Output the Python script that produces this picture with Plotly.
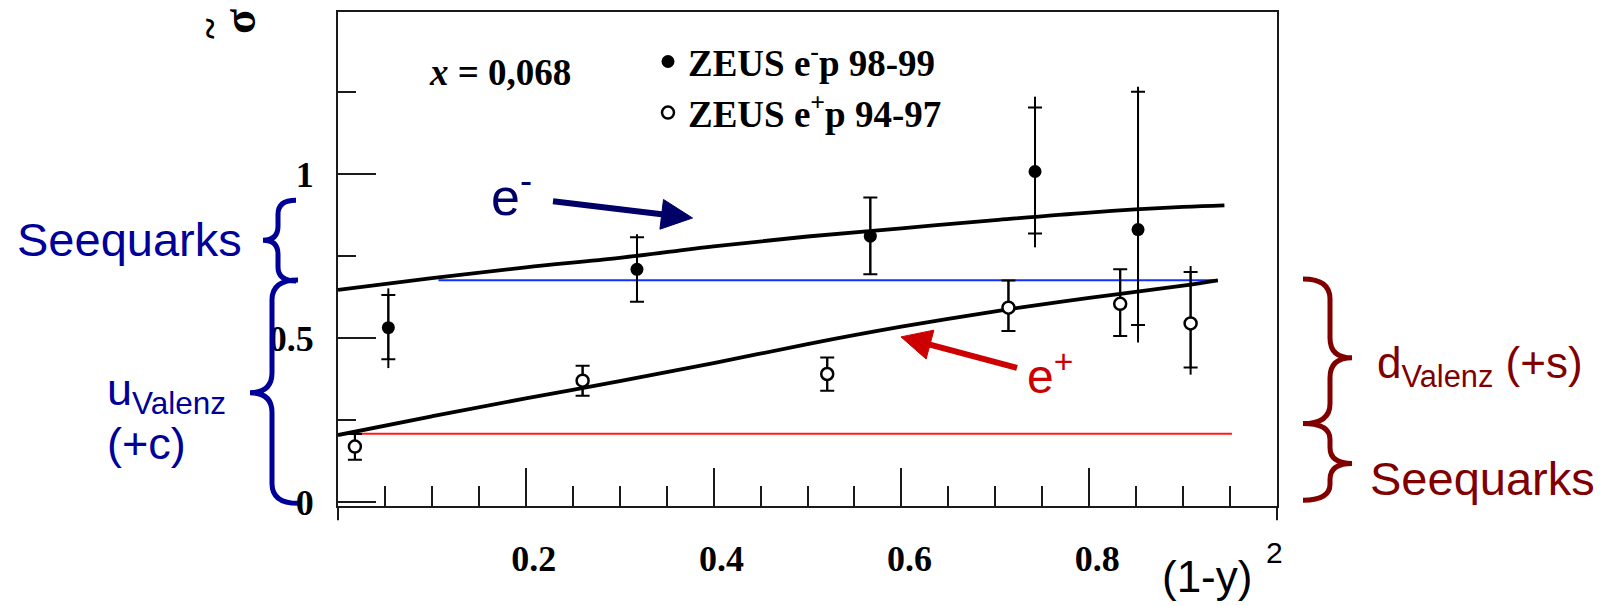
import math
import plotly.graph_objects as go

# ---------------------------------------------------------------------------
# ZEUS charged-current reduced cross sections at x = 0.068 vs (1-y)^2
# ---------------------------------------------------------------------------
# e- p 98-99 (filled points)
em_x = [0.0536, 0.3184, 0.5669, 0.7423, 0.852]
em_y = [0.532, 0.710, 0.811, 1.008, 0.831]
em_stat_hi = [0.632, 0.808, 0.929, 1.203, 1.251]
em_stat_lo = [0.436, 0.611, 0.695, 0.819, 0.540]
em_tot_hi = [0.652, 0.817, 0.929, 1.236, 1.266]
em_tot_lo = [0.409, 0.611, 0.695, 0.777, 0.487]

# e+ p 94-97 (open points)
ep_x = [0.018, 0.2605, 0.521, 0.714, 0.833, 0.908]
ep_y = [0.170, 0.3705, 0.391, 0.593, 0.605, 0.545]
ep_stat_hi = [0.208, 0.416, 0.441, 0.676, 0.710, 0.702]
ep_stat_lo = [0.130, 0.325, 0.340, 0.522, 0.507, 0.411]
ep_tot_hi = [0.208, 0.416, 0.441, 0.676, 0.710, 0.720]
ep_tot_lo = [0.130, 0.325, 0.340, 0.522, 0.507, 0.389]

# Standard Model expectations
fit_em_x = [0.0, 0.1, 0.2, 0.3, 0.4, 0.5, 0.6, 0.7, 0.8, 0.9, 0.944]
fit_em_y = [0.647, 0.683, 0.716, 0.745, 0.780, 0.810, 0.835, 0.860, 0.883, 0.900, 0.905]
fit_ep_x = [0.0, 0.1, 0.2, 0.3, 0.4, 0.5, 0.6, 0.7, 0.8, 0.9, 0.937]
fit_ep_y = [0.205, 0.262, 0.317, 0.369, 0.424, 0.482, 0.535, 0.582, 0.623, 0.660, 0.676]

# quark-content reference levels
u_level_x = [0.107, 0.937]
u_level_y = [0.677, 0.677]
sea_level_x = [0.017, 0.952]
sea_level_y = [0.209, 0.209]

x_tick_vals = [0.2, 0.4, 0.6, 0.8]
x_tick_text = ["0.2", "0.4", "0.6", "0.8"]
y_tick_vals = [0, 0.5, 1]
y_tick_text = ["0", "0.5", "1"]

# ---------------------------------------------------------------------------
W, H = 1607, 606
L, R, T, B = 338, 1277, 10, 505.7


def X(p):
    return (p - L) / (R - L)


def Y(p):
    return (B - p) / (B - T)


def brace(x_end, x_stem, x_tip, y_top, y_tip, y_bot, r):
    return (
        f"M {X(x_end)},{Y(y_top)} "
        f"Q {X(x_stem)},{Y(y_top)} {X(x_stem)},{Y(y_top + r)} "
        f"L {X(x_stem)},{Y(y_tip - r)} "
        f"Q {X(x_stem)},{Y(y_tip)} {X(x_tip)},{Y(y_tip)} "
        f"Q {X(x_stem)},{Y(y_tip)} {X(x_stem)},{Y(y_tip + r)} "
        f"L {X(x_stem)},{Y(y_bot - r)} "
        f"Q {X(x_stem)},{Y(y_bot)} {X(x_end)},{Y(y_bot)}"
    )


def arrow_shapes(tail, tip, color, head_len=31, head_half=15, width=6):
    dx, dy = tip[0] - tail[0], tip[1] - tail[1]
    n = math.hypot(dx, dy)
    ux, uy = dx / n, dy / n
    bx, by = tip[0] - head_len * ux, tip[1] - head_len * uy
    px_, py_ = -uy, ux
    c1 = (bx + head_half * px_, by + head_half * py_)
    c2 = (bx - head_half * px_, by - head_half * py_)
    shaft = dict(type="line", xref="paper", yref="paper",
                 x0=X(tail[0]), y0=Y(tail[1]), x1=X(bx + 2 * ux), y1=Y(by + 2 * uy),
                 line=dict(color=color, width=width))
    head = dict(type="path", xref="paper", yref="paper",
                path=(f"M {X(tip[0])},{Y(tip[1])} L {X(c1[0])},{Y(c1[1])} "
                      f"L {X(c2[0])},{Y(c2[1])} Z"),
                fillcolor=color, line=dict(color=color, width=1))
    return [shaft, head]


SERIF = "Liberation Serif, Times New Roman, serif"
SANS = "Liberation Sans, Arial, sans-serif"
NAVY = "#000099"
DARKNAVY = "#000066"
MAROON = "#800000"
RED = "#cc0000"
INK = "#1a1a1a"

fig = go.Figure()

# reference levels
fig.add_trace(go.Scatter(x=u_level_x, y=u_level_y, mode="lines",
                         line=dict(color="#1030ff", width=2), showlegend=False))
fig.add_trace(go.Scatter(x=sea_level_x, y=sea_level_y, mode="lines",
                         line=dict(color="#ff1a1a", width=2), showlegend=False))

# expectation curves
fig.add_trace(go.Scatter(x=fit_em_x, y=fit_em_y, mode="lines", line_shape="spline",
                         line=dict(color="black", width=3.8), showlegend=False))
fig.add_trace(go.Scatter(x=fit_ep_x, y=fit_ep_y, mode="lines", line_shape="spline",
                         line=dict(color="black", width=3.8), showlegend=False))


def err(vals, centre, sign):
    return [sign * (v - c) for v, c in zip(vals, centre)]


# total uncertainties (no caps)
fig.add_trace(go.Scatter(
    x=em_x, y=em_y, mode="markers", marker=dict(size=1, color="rgba(0,0,0,0)"),
    error_y=dict(type="data", symmetric=False, array=err(em_tot_hi, em_y, 1),
                 arrayminus=err(em_tot_lo, em_y, -1), width=0, thickness=2,
                 color="black"),
    showlegend=False, hoverinfo="skip"))
fig.add_trace(go.Scatter(
    x=ep_x, y=ep_y, mode="markers", marker=dict(size=1, color="rgba(0,0,0,0)"),
    error_y=dict(type="data", symmetric=False, array=err(ep_tot_hi, ep_y, 1),
                 arrayminus=err(ep_tot_lo, ep_y, -1), width=0, thickness=2,
                 color="black"),
    showlegend=False, hoverinfo="skip"))

# data points with statistical uncertainties
fig.add_trace(go.Scatter(
    x=em_x, y=em_y, mode="markers", name="ZEUS e<sup>-</sup>p 98-99",
    legendgroup="a",
    marker=dict(symbol="circle", size=13, color="black"),
    error_y=dict(type="data", symmetric=False, array=err(em_stat_hi, em_y, 1),
                 arrayminus=err(em_stat_lo, em_y, -1), width=7, thickness=2,
                 color="black")))
fig.add_trace(go.Scatter(
    x=ep_x, y=ep_y, mode="markers", name="ZEUS e<sup>+</sup>p 94-97",
    legendgroup="b",
    marker=dict(symbol="circle", size=12, color="white",
                line=dict(color="black", width=2.5)),
    error_y=dict(type="data", symmetric=False, array=err(ep_stat_hi, ep_y, 1),
                 arrayminus=err(ep_stat_lo, ep_y, -1), width=7, thickness=2,
                 color="black")))

# ---------------------------------------------------------------------------
shapes = []
# frame extensions below the axis
for xe in (L, R):
    shapes.append(dict(type="line", xref="paper", yref="paper",
                       x0=X(xe), x1=X(xe), y0=Y(B), y1=Y(520),
                       line=dict(color=INK, width=2)))
# braces
shapes.append(dict(type="path", xref="paper", yref="paper",
                   path=brace(296, 278, 263, 199, 239, 280, 14),
                   line=dict(color=NAVY, width=5)))
shapes.append(dict(type="path", xref="paper", yref="paper",
                   path=brace(298, 272, 250, 279, 392, 503, 20),
                   line=dict(color=NAVY, width=5)))
shapes.append(dict(type="path", xref="paper", yref="paper",
                   path=brace(1303, 1330, 1352, 278, 357, 423, 20),
                   line=dict(color=MAROON, width=5)))
shapes.append(dict(type="path", xref="paper", yref="paper",
                   path=brace(1303, 1330, 1352, 423, 463, 500, 16),
                   line=dict(color=MAROON, width=5)))
# arrows pointing at the two curves
shapes += arrow_shapes((553, 200), (692.5, 216.7), DARKNAVY)
shapes += arrow_shapes((1017, 367), (901, 336), RED, head_len=30)

ann = []


def text(s, x, y, size, color, family=SANS, xanchor="left", weight="normal",
         angle=0):
    ann.append(dict(text=s, x=X(x), y=Y(y), xref="paper", yref="paper",
                    xanchor=xanchor, yanchor="middle", showarrow=False,
                    textangle=angle,
                    font=dict(family=family, size=size, color=color,
                              weight=weight)))


text("Seequarks", 15, 238, 47, NAVY)
text("u<sub>Valenz</sub>", 105, 392, 45, NAVY)
text("(+c)", 105, 443, 45, NAVY)
text("d<sub>Valenz</sub> (+s)", 1375, 365, 44, MAROON)
text("Seequarks", 1368, 478, 47, MAROON)
text("e<sup>-</sup>", 489, 192, 52, DARKNAVY)
text("e<sup>+</sup>", 1025, 372, 48, RED)
text("<i>x</i> = 0,068", 500, 71, 37, "black", family=SERIF,
     xanchor="center", weight="bold")
text("(1-y)", 1160, 576, 44, "black")
text("2", 1264, 552, 30, "black")
# rotated y-axis symbol (sigma with tilde), partly running off the top edge
text("σ", 240, 20, 46, "black", family=SERIF, xanchor="center",
     weight="bold", angle=-90)
text("~", 210, 27, 40, "black", family=SERIF, xanchor="center",
     weight="bold", angle=-90)

axis_line = dict(showline=True, linecolor=INK, linewidth=2, mirror=True,
                 showgrid=False, zeroline=False)

fig.update_layout(
    width=W, height=H,
    margin=dict(l=L, r=W - R, t=T, b=H - B, pad=0),
    paper_bgcolor="white", plot_bgcolor="white",
    shapes=shapes, annotations=ann,
    showlegend=True,
    legend=dict(x=X(648), y=Y(29), xanchor="left", yanchor="top",
                bgcolor="rgba(0,0,0,0)", borderwidth=0,
                traceorder="grouped", tracegroupgap=0,
                font=dict(family=SERIF, size=37, color="black", weight="bold")),
    xaxis=dict(range=[0, 1.0], tickmode="array", tickvals=x_tick_vals,
               ticktext=x_tick_text, ticks="inside", ticklen=38, tickwidth=2,
               tickcolor=INK, ticklabelstandoff=20, ticklabelshift=8,
               minor=dict(dtick=0.05, tick0=0, ticks="inside", ticklen=20,
                          tickwidth=2, tickcolor=INK),
               tickfont=dict(family=SERIF, size=36, color="black",
                             weight="bold"),
               **axis_line),
    yaxis=dict(range=[-0.0112, 1.494], tickmode="array", tickvals=y_tick_vals,
               ticktext=y_tick_text, ticks="inside", ticklen=38, tickwidth=2,
               tickcolor=INK, ticklabelstandoff=15,
               minor=dict(dtick=0.25, tick0=0, ticks="inside", ticklen=18,
                          tickwidth=2, tickcolor=INK),
               tickfont=dict(family=SERIF, size=36, color="black",
                             weight="bold"),
               **axis_line),
)

fig.write_html("out.html")
